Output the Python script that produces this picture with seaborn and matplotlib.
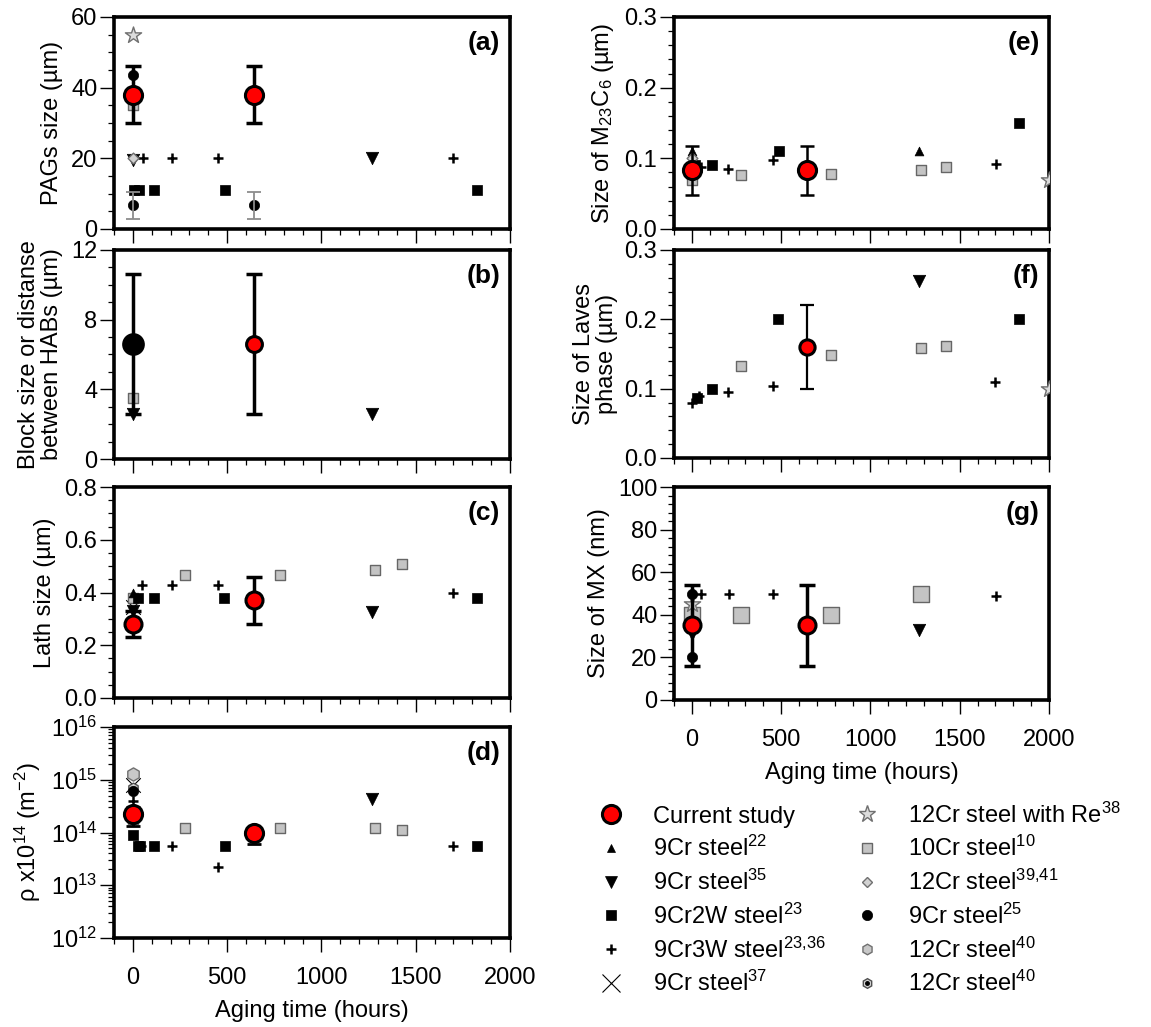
import numpy as np
import matplotlib
matplotlib.use("Agg")
import matplotlib.pyplot as plt
import seaborn as sns
from matplotlib.lines import Line2D
from matplotlib.ticker import MultipleLocator, LogLocator, NullFormatter
from matplotlib.legend_handler import HandlerTuple

# -----------------------------
# Data: aging time (hours) and measured values
# -----------------------------
# (a) PAGs size (um)
a_cur_t, a_cur_y, a_cur_lo, a_cur_hi = [0, 645], [38, 38], [30, 30], [46, 46]
a_9cr25_t, a_9cr25_y = [0], [43.5]
a_9cr25b_t, a_9cr25b_y, a_9cr25b_lo, a_9cr25b_hi = [0, 645], [6.7, 6.7], [2.7, 2.7], [10.5, 10.5]
a_re_t, a_re_y = [0], [55]
a_10cr_t, a_10cr_y = [0], [35]
a_12cr3941_t, a_12cr3941_y = [0], [20]
a_9cr35_t, a_9cr35_y = [0, 1270], [19.5, 20]
a_9cr3w_t, a_9cr3w_y = [55, 205, 450, 1700], [20, 20, 20, 20]
a_9cr2w_t, a_9cr2w_y = [5, 30, 110, 490, 1825], [11, 11, 11, 11, 11]

# (b) block size / distance between HABs (um)
b_init_t, b_init_y, b_init_lo, b_init_hi = [0], [6.6], [2.6], [10.6]
b_cur_t, b_cur_y, b_cur_lo, b_cur_hi = [645], [6.6], [2.6], [10.6]
b_10cr_t, b_10cr_y = [0], [3.5]
b_9cr35_t, b_9cr35_y = [0, 1270], [2.6, 2.6]

# (c) lath size (um)
c_cur_t, c_cur_y, c_cur_lo, c_cur_hi = [0, 645], [0.28, 0.37], [0.23, 0.28], [0.33, 0.46]
c_9cr22_t, c_9cr22_y = [0], [0.40]
c_9cr35_t, c_9cr35_y = [0, 1270], [0.33, 0.325]
c_9cr37_t, c_9cr37_y = [0], [0.345]
c_12cr3941_t, c_12cr3941_y = [0], [0.30]
c_10cr_t, c_10cr_y = [0, 275, 780, 1285, 1425], [0.38, 0.467, 0.467, 0.487, 0.507]
c_9cr2w_t, c_9cr2w_y = [25, 110, 485, 1825], [0.38, 0.38, 0.38, 0.38]
c_9cr3w_t, c_9cr3w_y = [48, 205, 450, 1700], [0.43, 0.43, 0.43, 0.40]

# (d) dislocation density (m^-2)
d_cur_t, d_cur_y, d_cur_lo, d_cur_hi = [0, 645], [2.2e14, 1.0e14], [1.35e14, 0.6e14], [3.0e14, 1.25e14]
d_12cr40_t, d_12cr40_y = [0], [1.3e15]
d_12cr40b_t, d_12cr40b_y = [0], [7.0e14]
d_9cr37_t, d_9cr37_y = [0], [8.0e14]
d_9cr25_t, d_9cr25_y = [0], [6.2e14]
d_9cr3w_t, d_9cr3w_y = [0, 45, 205, 450, 1700], [3.9e14, 5.6e13, 5.6e13, 2.2e13, 5.6e13]
d_10cr_t, d_10cr_y = [0, 275, 780, 1285, 1425], [1.8e14, 1.2e14, 1.2e14, 1.2e14, 1.12e14]
d_9cr2w_t, d_9cr2w_y = [0, 25, 40, 110, 490, 1825], [9e13, 5.6e13, 5.6e13, 5.6e13, 5.6e13, 5.6e13]
d_9cr35_t, d_9cr35_y = [1270], [4.3e14]

# (e) M23C6 size (um)
e_cur_t, e_cur_y, e_cur_lo, e_cur_hi = [0, 645], [0.083, 0.083], [0.048, 0.048], [0.118, 0.118]
e_9cr22_t, e_9cr22_y = [0, 1270], [0.11, 0.11]
e_12cr3941_t, e_12cr3941_y = [0], [0.10]
e_10cr_t, e_10cr_y = [0, 275, 780, 1285, 1425], [0.07, 0.076, 0.078, 0.084, 0.088]
e_9cr3w_t, e_9cr3w_y = [50, 205, 453, 1705], [0.088, 0.085, 0.098, 0.092]
e_9cr2w_t, e_9cr2w_y = [20, 110, 487, 1830], [0.09, 0.091, 0.11, 0.15]
e_9cr35_t, e_9cr35_y = [0], [0.085]
e_re_t, e_re_y = [2000], [0.07]

# (f) Laves phase size (um)
f_cur_t, f_cur_y, f_cur_lo, f_cur_hi = [645], [0.16], [0.10], [0.22]
f_9cr3w_t, f_9cr3w_y = [0, 40, 205, 453, 1700], [0.08, 0.09, 0.095, 0.104, 0.11]
f_9cr2w_t, f_9cr2w_y = [30, 110, 485, 1830], [0.086, 0.10, 0.20, 0.20]
f_10cr_t, f_10cr_y = [277, 780, 1284, 1425], [0.132, 0.149, 0.158, 0.161]
f_9cr35_t, f_9cr35_y = [1270], [0.255]
f_re_t, f_re_y = [2000], [0.10]

# (g) MX size (nm)
g_cur_t, g_cur_y, g_cur_lo, g_cur_hi = [0, 645], [35, 35], [16, 16], [54, 54]
g_9cr25_t, g_9cr25_y = [0, 0], [50, 20]
g_re_t, g_re_y = [0], [45]
g_10cr_t, g_10cr_y = [0, 277, 780, 1284], [40, 40, 40, 50]
g_12cr40_t, g_12cr40_y = [0], [41]
g_9cr35_t, g_9cr35_y = [0, 1270], [31, 33]
g_9cr3w_t, g_9cr3w_y = [50, 206, 455, 1705], [50, 50, 50, 49]

# -----------------------------
# Styles
# -----------------------------
sns.set_theme(style="ticks")
plt.rcParams["font.family"] = ["Liberation Sans", "DejaVu Sans"]
plt.rcParams["mathtext.fontset"] = "custom"
plt.rcParams["mathtext.rm"] = "Liberation Sans"
plt.rcParams["mathtext.it"] = "Liberation Sans:italic"
plt.rcParams["mathtext.bf"] = "Liberation Sans:bold"
for key in ("text.color", "axes.labelcolor", "xtick.color", "ytick.color"):
    plt.rcParams[key] = "black"

STYLE = {
    "cur": dict(marker="o", s=170, fc="#ff0000", ec="black", lw=2.2, z=10),
    "init": dict(marker="o", s=170, fc="black", ec="black", lw=2.2, z=10),
    "9cr22": dict(marker="^", s=40, fc="black", ec="black", lw=0.5, z=5),
    "9cr35": dict(marker="v", s=80, fc="black", ec="black", lw=0.5, z=5),
    "9cr2w": dict(marker="s", s=45, fc="black", ec="black", lw=0.5, z=5),
    "9cr3w": dict(marker="+", s=55, fc="black", ec=None, lw=1.8, z=5),
    "9cr37": dict(marker="x", s=110, fc="black", ec=None, lw=0.8, z=4),
    "re": dict(marker="*", s=150, fc="#dcdcdc", ec="#707070", lw=1.0, z=5),
    "10cr": dict(marker="s", s=50, fc="#c4c4c4", ec="#666666", lw=1.0, z=5),
    "10cr_big": dict(marker="s", s=130, fc="#c4c4c4", ec="#666666", lw=1.0, z=5),
    "12cr3941": dict(marker="D", s=30, fc="#d2d2d2", ec="#707070", lw=1.0, z=6),
    "9cr25": dict(marker="o", s=55, fc="black", ec="black", lw=0.5, z=6),
    "12cr40": dict(marker="h", s=90, fc="#c8c8c8", ec="#707070", lw=1.0, z=4),
    "12cr40b": dict(marker="h", s=60, fc="#d0d0d0", ec="#505050", lw=1.0, z=5),
}


def pts(ax, t, y, key, s=None):
    st = STYLE[key]
    kw = dict(marker=st["marker"], s=s or st["s"], color=st["fc"],
              linewidth=st["lw"], zorder=st["z"], legend=False, ax=ax)
    if st["ec"] is not None:
        kw["edgecolor"] = st["ec"]
    sns.scatterplot(x=t, y=y, **kw)
    if key == "12cr40b":
        sns.scatterplot(x=t, y=y, marker="o", s=8, color="black", zorder=6,
                        linewidth=0, legend=False, ax=ax)


def errs(ax, t, y, lo, hi, color="black", lw=2.5, cap=6, z=9):
    y = np.asarray(y)
    ax.errorbar(t, y, yerr=[y - np.asarray(lo), np.asarray(hi) - y], fmt="none",
                ecolor=color, elinewidth=lw, capsize=cap, capthick=lw, zorder=z)


# -----------------------------
# Figure and axes
# -----------------------------
W, H = 1151, 1027
fig = plt.figure(figsize=(W / 100, H / 100), dpi=100)


def box(x0, x1, y0, y1):
    return fig.add_axes([x0 / W, 1 - y1 / H, (x1 - x0) / W, (y1 - y0) / H])


ax_a = box(114, 510, 17, 229)
ax_b = box(114, 510, 250, 459)
ax_c = box(114, 510, 487, 698)
ax_d = box(114, 510, 727, 938)
ax_e = box(674, 1049, 17, 229)
ax_f = box(674, 1049, 250, 458)
ax_g = box(674, 1049, 487, 700)

FS = 17

# (a)
errs(ax_a, a_cur_t, a_cur_y, a_cur_lo, a_cur_hi)
errs(ax_a, a_9cr25b_t, a_9cr25b_y, a_9cr25b_lo, a_9cr25b_hi, color="#8c8c8c", lw=1.3, cap=5)
pts(ax_a, a_re_t, a_re_y, "re")
pts(ax_a, a_10cr_t, a_10cr_y, "10cr")
pts(ax_a, a_9cr35_t, a_9cr35_y, "9cr35")
pts(ax_a, a_12cr3941_t, a_12cr3941_y, "12cr3941")
pts(ax_a, a_9cr3w_t, a_9cr3w_y, "9cr3w")
pts(ax_a, a_9cr2w_t, a_9cr2w_y, "9cr2w")
pts(ax_a, a_9cr25_t, a_9cr25_y, "9cr25")
pts(ax_a, a_9cr25b_t, a_9cr25b_y, "9cr25")
pts(ax_a, a_cur_t, a_cur_y, "cur")

# (b)
errs(ax_b, b_init_t, b_init_y, b_init_lo, b_init_hi)
errs(ax_b, b_cur_t, b_cur_y, b_cur_lo, b_cur_hi)
pts(ax_b, b_10cr_t, b_10cr_y, "10cr")
pts(ax_b, b_9cr35_t, b_9cr35_y, "9cr35")
pts(ax_b, b_init_t, b_init_y, "init", s=200)
pts(ax_b, b_cur_t, b_cur_y, "cur", s=130)

# (c)
errs(ax_c, c_cur_t, c_cur_y, c_cur_lo, c_cur_hi)
pts(ax_c, c_10cr_t, c_10cr_y, "10cr")
pts(ax_c, c_9cr2w_t, c_9cr2w_y, "9cr2w")
pts(ax_c, c_9cr3w_t, c_9cr3w_y, "9cr3w")
pts(ax_c, c_9cr22_t, c_9cr22_y, "9cr22")
pts(ax_c, c_9cr37_t, c_9cr37_y, "9cr37")
pts(ax_c, c_9cr35_t, c_9cr35_y, "9cr35")
pts(ax_c, c_cur_t, c_cur_y, "cur", s=150)
pts(ax_c, c_12cr3941_t, c_12cr3941_y, "12cr3941")

# (d)
errs(ax_d, d_cur_t, d_cur_y, d_cur_lo, d_cur_hi, lw=2.0, cap=5)
pts(ax_d, d_12cr40_t, d_12cr40_y, "12cr40")
pts(ax_d, d_9cr37_t, d_9cr37_y, "9cr37")
pts(ax_d, d_12cr40b_t, d_12cr40b_y, "12cr40b")
pts(ax_d, d_9cr25_t, d_9cr25_y, "9cr25")
pts(ax_d, d_9cr3w_t, d_9cr3w_y, "9cr3w")
pts(ax_d, d_10cr_t, d_10cr_y, "10cr")
pts(ax_d, d_9cr2w_t, d_9cr2w_y, "9cr2w")
pts(ax_d, d_9cr35_t, d_9cr35_y, "9cr35")
pts(ax_d, d_cur_t, d_cur_y, "cur")

# (e)
errs(ax_e, e_cur_t, e_cur_y, e_cur_lo, e_cur_hi, lw=1.8, cap=5)
pts(ax_e, e_9cr22_t, e_9cr22_y, "9cr22")
pts(ax_e, e_12cr3941_t, e_12cr3941_y, "12cr3941")
pts(ax_e, e_10cr_t, e_10cr_y, "10cr")
pts(ax_e, e_9cr3w_t, e_9cr3w_y, "9cr3w")
pts(ax_e, e_9cr2w_t, e_9cr2w_y, "9cr2w")
pts(ax_e, e_9cr35_t, e_9cr35_y, "9cr35")
pts(ax_e, e_cur_t, e_cur_y, "cur")
pts(ax_e, e_re_t, e_re_y, "re")

# (f)
errs(ax_f, f_cur_t, f_cur_y, f_cur_lo, f_cur_hi, lw=1.6, cap=5)
pts(ax_f, f_9cr3w_t, f_9cr3w_y, "9cr3w")
pts(ax_f, f_9cr2w_t, f_9cr2w_y, "9cr2w")
pts(ax_f, f_10cr_t, f_10cr_y, "10cr")
pts(ax_f, f_9cr35_t, f_9cr35_y, "9cr35")
pts(ax_f, f_cur_t, f_cur_y, "cur", s=120)
pts(ax_f, f_re_t, f_re_y, "re")

# (g)
errs(ax_g, g_cur_t, g_cur_y, g_cur_lo, g_cur_hi)
pts(ax_g, g_9cr25_t, g_9cr25_y, "9cr25")
pts(ax_g, g_12cr40_t, g_12cr40_y, "12cr40")
pts(ax_g, g_10cr_t, g_10cr_y, "10cr_big")
pts(ax_g, g_re_t, g_re_y, "re")
pts(ax_g, g_9cr35_t, g_9cr35_y, "9cr35")
pts(ax_g, g_9cr3w_t, g_9cr3w_y, "9cr3w")
pts(ax_g, g_cur_t, g_cur_y, "cur", s=150)

# -----------------------------
# Axes formatting
# -----------------------------
panels = [
    (ax_a, "(a)", "PAGs size (µm)", (0, 60), 20, 5),
    (ax_b, "(b)", "Block size or distanse\nbetween HABs (µm)", (0, 12), 4, 1),
    (ax_c, "(c)", "Lath size (µm)", (0, 0.8), 0.2, 0.05),
    (ax_d, "(d)", r"ρ x10$^{14}$ (m$^{-2}$)", (1e12, 1e16), None, None),
    (ax_e, "(e)", r"Size of M$_{23}$C$_6$ (µm)", (0, 0.3), 0.1, 0.02),
    (ax_f, "(f)", "Size of Laves\nphase (µm)", (0, 0.3), 0.1, 0.02),
    (ax_g, "(g)", "Size of MX (nm)", (0, 100), 20, 4),
]

for ax, tag, ylab, ylim, major, minor in panels:
    ax.set_xlim(-100, 2000)
    ax.xaxis.set_major_locator(MultipleLocator(500))
    ax.xaxis.set_minor_locator(MultipleLocator(100))
    if major is None:
        ax.set_yscale("log")
        ax.yaxis.set_major_locator(LogLocator(base=10, numticks=10))
        ax.yaxis.set_minor_locator(LogLocator(base=10, subs=np.arange(2, 10), numticks=10))
        ax.yaxis.set_minor_formatter(NullFormatter())
    else:
        ax.yaxis.set_major_locator(MultipleLocator(major))
        ax.yaxis.set_minor_locator(MultipleLocator(minor))
    ax.set_ylim(*ylim)
    ax.tick_params(which="major", direction="out", length=10, width=1.0,
                   labelsize=FS, color="black", labelcolor="black", pad=2)
    ax.tick_params(which="minor", direction="out", length=4.5, width=0.9, color="black")
    ax.tick_params(axis="x", which="major", pad=11)
    for sp in ax.spines.values():
        sp.set_linewidth(2.6)
        sp.set_color("black")
    ax.set_ylabel(ylab, fontsize=FS, linespacing=1.05)
    ax.set_xlabel("")
    ax.text(0.975, 0.877, tag, transform=ax.transAxes, ha="right", va="center",
            fontsize=FS + 2, fontweight="bold")
    ax.grid(False)

for ax in (ax_a, ax_b, ax_c, ax_e, ax_f):
    ax.tick_params(axis="x", labelbottom=False)

for ax in (ax_d, ax_g):
    ax.set_xlabel("Aging time (hours)", fontsize=FS, labelpad=8)

for ax in (ax_a, ax_c, ax_d, ax_e, ax_g):
    ax.yaxis.labelpad = 6
ax_b.yaxis.labelpad = 6
ax_f.yaxis.labelpad = 5

# -----------------------------
# Legend
# -----------------------------
def handle(key, ms_scale=1.0):
    st = STYLE[key]
    return Line2D([], [], linestyle="none", marker=st["marker"],
                  markersize=np.sqrt(st["s"]) * ms_scale,
                  markerfacecolor=st["fc"],
                  markeredgecolor=st["ec"] if st["ec"] is not None else st["fc"],
                  markeredgewidth=st["lw"], color=st["fc"])


dot = Line2D([], [], linestyle="none", marker="o", markersize=2.5,
             markerfacecolor="black", markeredgecolor="black")

legend_labels = [
    "Current study",
    r"9Cr steel$^{22}$",
    r"9Cr steel$^{35}$",
    r"9Cr2W steel$^{23}$",
    r"9Cr3W steel$^{23{,}36}$",
    r"9Cr steel$^{37}$",
    r"12Cr steel with Re$^{38}$",
    r"10Cr steel$^{10}$",
    r"12Cr steel$^{39{,}41}$",
    r"9Cr steel$^{25}$",
    r"12Cr steel$^{40}$",
    r"12Cr steel$^{40}$",
]
legend_handles = [
    handle("cur"), handle("9cr22"), handle("9cr35", 0.9), handle("9cr2w"),
    handle("9cr3w"), handle("9cr37", 1.3),
    handle("re"), handle("10cr"), handle("12cr3941"), handle("9cr25"),
    handle("12cr40", 0.8), (handle("12cr40b", 0.9), dot),
]

fig.legend(legend_handles, legend_labels, loc="upper left",
           bbox_to_anchor=(583 / W, 1 - 793 / H), ncol=2, frameon=False,
           fontsize=FS, handlelength=1.6, handletextpad=0.95,
           columnspacing=0.95, labelspacing=0.36, borderaxespad=0,
           handler_map={tuple: HandlerTuple(ndivide=1)})

fig.savefig("out.png", dpi=100)
